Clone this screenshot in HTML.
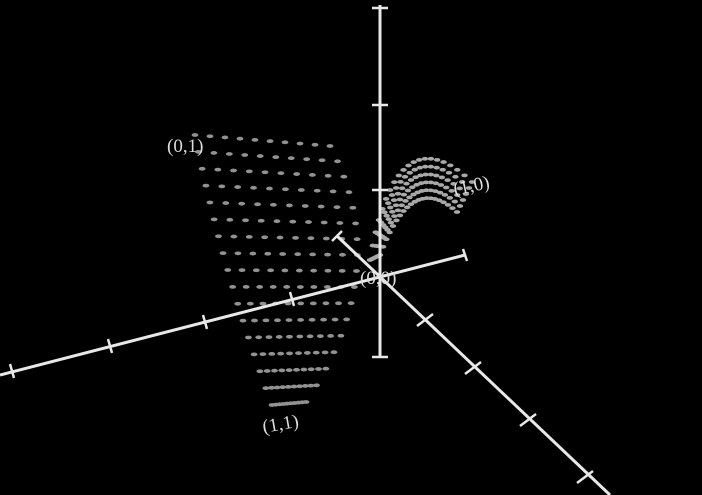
<!DOCTYPE html>
<html><head><meta charset="utf-8"><style>
html,body{margin:0;padding:0;background:#000;width:702px;height:495px;overflow:hidden}
svg{display:block}
text{font-family:"Liberation Serif",serif;fill:#ddd;font-size:19px}
</style></head><body>
<svg id="chart" width="702" height="495">
<rect width="702" height="495" fill="#000"/>
<g id="dots"></g>
<g stroke="#e8e8e8" stroke-width="3" fill="none">
<line x1="380" y1="5" x2="380" y2="357"/>
<line x1="465" y1="255" x2="0" y2="375"/>
<line x1="337" y1="236" x2="610" y2="495"/>
</g>
<g id="ticks" stroke="#e8e8e8" stroke-width="2.5"></g>
<text x="167" y="152">(0,1)</text>
<text x="453" y="192" transform="rotate(-12 470 185)">(1,0)</text>
<text x="262" y="430" transform="rotate(-10 280 422)">(1,1)</text>
<text x="360" y="284" font-size="16">(0,0)</text>
</svg>
<script>
// sheet parameters (rows top→bottom, columns left→right)
const sheetRows=[0,0.0625,0.125,0.1875,0.25,0.3125,0.375,0.4375,0.5,0.5625,0.625,0.6875,0.75,0.8125,0.875,0.9375,1];
const sheetCols=[0,0.111,0.222,0.333,0.444,0.556,0.667,0.778,0.889,1];
// ribbon parameters (arcs and samples along each arc)
const ribbonArcs=[0,1,2,3,4,5];
const ribbonSamples=[0,0.05,0.1,0.15,0.2,0.25,0.3,0.35,0.4,0.45,0.5,0.55,0.6,0.65,0.7,0.75,0.8,0.85,0.9,0.95,1];
const zTicks=[8,105,190,357];
const yTicks=[[292,299],[205,322],[110,346],[12,371]];
const xTicks=[[425,320],[473,368],[528,420],[585,477]];
const NS='http://www.w3.org/2000/svg';
function qb(a,c,b,t){return [(1-t)*(1-t)*a[0]+2*(1-t)*t*c[0]+t*t*b[0],(1-t)*(1-t)*a[1]+2*(1-t)*t*c[1]+t*t*b[1]];}
function sheetPos(u,v){
 const L=qb([195,135],[222,270],[272,405],v);
 const R=qb([330,146],[395,268],[306,402],v);
 return [L[0]+u*(R[0]-L[0]), L[1]+u*(R[1]-L[1])];
}
function ribbonPos(k,t){
 return qb([370+k*2,260-k*1],[396+k*3,110+k*12],[472-k*3,182+k*6],t);
}
const g=document.getElementById('dots');
function dot(p,fill,rx){
 const e=document.createElementNS(NS,'ellipse');
 
 
 e.setAttribute('cx',p[0]);e.setAttribute('cy',p[1]);
 e.setAttribute('rx',rx);e.setAttribute('ry',1.9);
 e.setAttribute('fill',fill);
 g.appendChild(e);
}
sheetRows.forEach(v=>sheetCols.forEach(u=>dot(sheetPos(u,v),'#929292',3.4)));
ribbonArcs.forEach(k=>ribbonSamples.forEach(t=>dot(ribbonPos(k,t),'#a8a8a8',3.2)));
const t=document.getElementById('ticks');
function tick(x1,y1,x2,y2){const l=document.createElementNS(NS,'line');
 
 
 l.setAttribute('x1',x1);l.setAttribute('y1',y1);l.setAttribute('x2',x2);l.setAttribute('y2',y2);t.appendChild(l);}
zTicks.forEach(y=>tick(372,y,388,y));
yTicks.forEach(p=>tick(p[0]-2,p[1]-7,p[0]+2,p[1]+7));
xTicks.forEach(p=>tick(p[0]-8,p[1]+6,p[0]+8,p[1]-6));
tick(463,249,467,261);tick(332,241,342,231);
</script>
</body></html>
